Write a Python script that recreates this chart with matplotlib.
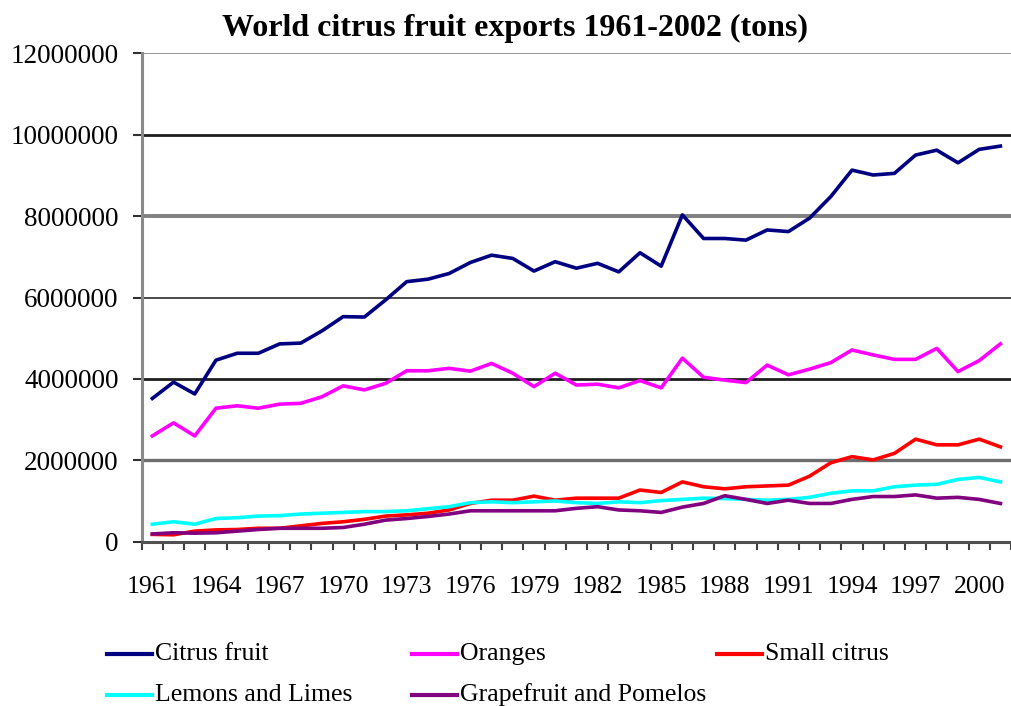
import numpy as np
import matplotlib
matplotlib.use("Agg")
import matplotlib.pyplot as plt
from matplotlib.lines import Line2D

plt.rcParams['font.family'] = ['Liberation Serif', 'DejaVu Serif']

# data (millions of tons), 1961-2001
years = list(range(1961, 2002))
citrus = [3.52, 3.92, 3.63, 4.46, 4.63, 4.63, 4.86, 4.88, 5.18, 5.53,
          5.52, 5.94, 6.39, 6.45, 6.59, 6.86, 7.04, 6.96, 6.65, 6.88,
          6.72, 6.84, 6.63, 7.10, 6.77, 8.03, 7.45, 7.45, 7.41, 7.66,
          7.62, 7.95, 8.48, 9.13, 9.01, 9.05, 9.50, 9.62, 9.31, 9.64, 9.72]
oranges = [2.60, 2.92, 2.60, 3.28, 3.34, 3.28, 3.38, 3.40, 3.56, 3.83,
           3.73, 3.89, 4.20, 4.20, 4.26, 4.19, 4.38, 4.14, 3.81, 4.14,
           3.85, 3.87, 3.78, 3.96, 3.78, 4.51, 4.04, 3.97, 3.91, 4.34,
           4.10, 4.24, 4.40, 4.71, 4.59, 4.48, 4.48, 4.75, 4.18, 4.45, 4.86]
small_citrus = [0.18, 0.17, 0.26, 0.29, 0.30, 0.33, 0.33, 0.39, 0.45, 0.49,
                0.55, 0.63, 0.66, 0.70, 0.78, 0.94, 1.02, 1.02, 1.12, 1.02,
                1.07, 1.07, 1.07, 1.27, 1.21, 1.47, 1.35, 1.30, 1.35, 1.37,
                1.39, 1.61, 1.94, 2.09, 2.01, 2.17, 2.52, 2.38, 2.38, 2.52, 2.33]
lemons = [0.43, 0.49, 0.43, 0.57, 0.59, 0.63, 0.64, 0.68, 0.70, 0.72,
          0.74, 0.74, 0.76, 0.81, 0.86, 0.96, 0.98, 0.96, 0.98, 1.00,
          0.96, 0.94, 0.98, 0.96, 1.01, 1.04, 1.07, 1.06, 1.04, 1.02,
          1.04, 1.09, 1.19, 1.25, 1.25, 1.35, 1.39, 1.41, 1.53, 1.58, 1.47]
grapefruit = [0.19, 0.22, 0.21, 0.22, 0.26, 0.30, 0.33, 0.33, 0.33, 0.35,
              0.43, 0.53, 0.57, 0.62, 0.68, 0.76, 0.76, 0.76, 0.76, 0.76,
              0.82, 0.86, 0.78, 0.76, 0.72, 0.85, 0.94, 1.13, 1.04, 0.94,
              1.02, 0.94, 0.94, 1.04, 1.11, 1.11, 1.15, 1.07, 1.09, 1.04, 0.94]

names = ["Citrus fruit", "Oranges", "Small citrus", "Lemons and Limes", "Grapefruit and Pomelos"]
series = [citrus, oranges, small_citrus, lemons, grapefruit]
colors = ["#000080", "#ff00ff", "#ff0000", "#00ffff", "#800080"]

yticks = [0, 2000000, 4000000, 6000000, 8000000, 10000000, 12000000]
ytick_labels = [str(v) for v in yticks]
xtick_years = years[::3]

fig = plt.figure(figsize=(10.11, 7.06), dpi=100)
ax = fig.add_axes([0.1402, 0.2327, 0.8598, 0.6918])

# gridlines (each drawn a bit differently, like the scanned original)
grid_styles = {2000000: ("#6e6e6e", 2.4), 4000000: ("#1e1e1e", 2.0), 6000000: ("#3a3a3a", 1.3),
               8000000: ("#808080", 2.8), 10000000: ("#1e1e1e", 2.0), 12000000: ("#8c8c8c", 1.3)}
for v, (c, lw) in grid_styles.items():
    ax.axhline(v, color=c, lw=lw, zorder=1)

yrs = np.array(years)
for vals, c in zip(series, colors):
    ax.plot(yrs, np.array(vals) * 1e6, color=c, lw=2.6, zorder=3, solid_joinstyle='round')

ax.set_xlim(1960.5, 2001.08)
ax.set_ylim(0, 12000000)
ax.set_yticks(yticks)
ax.set_yticklabels(ytick_labels, fontsize=19.5)
ax.set_xticks(xtick_years)
ax.set_xticklabels([str(y) for y in xtick_years], fontsize=18.5)
ax.set_xticks(np.arange(1960.5, 2002, 1), minor=True)
ax.tick_params(axis='x', which='major', length=0, pad=25)
ax.tick_params(axis='x', which='minor', length=6, width=1.5, color="#404040", direction='out')
ax.tick_params(axis='y', length=6.5, width=1.5, color="#303030", pad=10)

for s in ['top', 'right']:
    ax.spines[s].set_visible(False)
ax.spines['left'].set_color("#8a8a8a")
ax.spines['left'].set_linewidth(2.2)
ax.spines['bottom'].set_color("#505050")
ax.spines['bottom'].set_linewidth(2.2)
ax.spines['bottom'].set_zorder(4)

fig.text(0.509, 1 - 28 / 706, "World citrus fruit exports 1961-2002 (tons)",
         ha='center', va='center', fontsize=23, fontweight='bold')

# legend laid out in fixed columns, two rows
col_x = [107, 412, 717]
row_y = [654, 695]
W, H = 1011, 706
for i, (name, c) in enumerate(zip(names, colors)):
    cx = col_x[i % 3]
    ry = row_y[i // 3]
    fig.add_artist(Line2D([cx / W, (cx + 45) / W], [1 - ry / H, 1 - ry / H],
                          color=c, lw=3, transform=fig.transFigure))
    fig.text((cx + 48) / W, 1 - ry / H, name, ha='left', va='center', fontsize=18.5)

fig.savefig("out.png", dpi=100)
